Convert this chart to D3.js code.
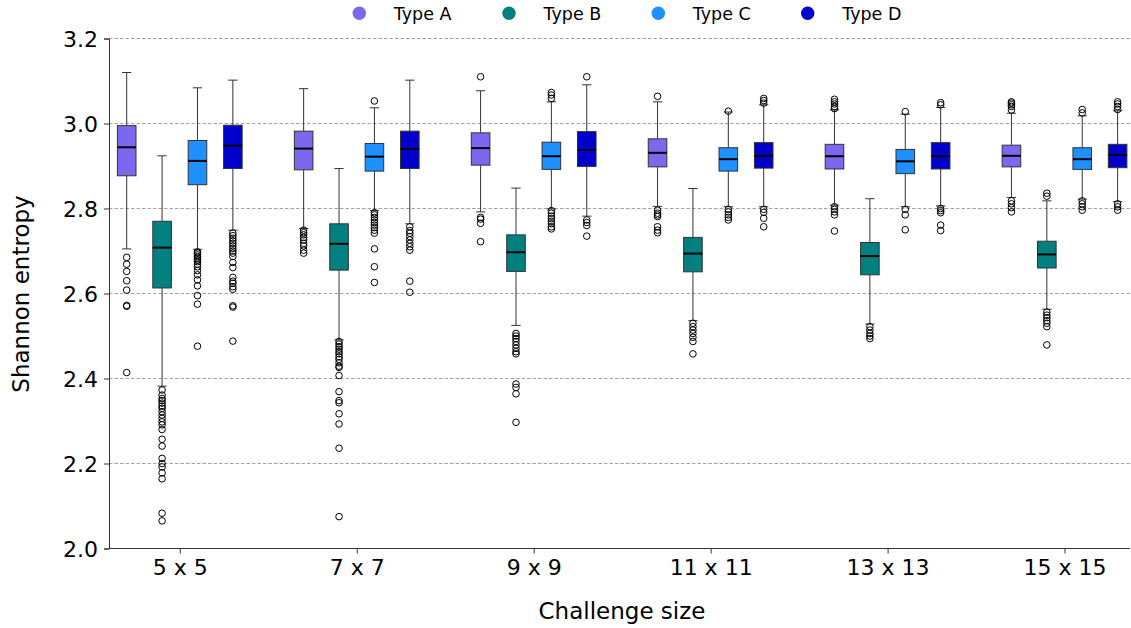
<!DOCTYPE html>
<html><head><meta charset="utf-8">
<script src="https://cdn.jsdelivr.net/npm/d3@7"></script>
<style>body{margin:0;background:#fff}svg{display:block}text{font-family:"DejaVu Sans",sans-serif;fill:#000}</style>
</head><body><svg id="c" width="1131" height="628"></svg>
<script>
const categories = ["5 x 5","7 x 7","9 x 9","11 x 11","13 x 13","15 x 15"];
const seriesNames = ["Type A","Type B","Type C","Type D"];
const seriesColors = ["#7B68EE","#008080","#1E90FF","#0000CD"];
const yTicks = [2.0,2.2,2.4,2.6,2.8,3.0,3.2];

// rows: Type A, B, C, D ; columns: categories
const whiskerLow = [
  [2.705,2.753,2.792,2.805,2.808,2.826],
  [2.382,2.491,2.525,2.536,2.528,2.563],
  [2.704,2.795,2.799,2.804,2.804,2.822],
  [2.749,2.764,2.782,2.804,2.806,2.816]];
const q1 = [
  [2.877,2.891,2.902,2.898,2.893,2.898],
  [2.613,2.655,2.652,2.651,2.644,2.660],
  [2.856,2.888,2.892,2.888,2.882,2.892],
  [2.894,2.894,2.899,2.895,2.893,2.896]];
const median = [
  [2.944,2.941,2.942,2.931,2.923,2.924],
  [2.708,2.717,2.697,2.694,2.688,2.692],
  [2.912,2.922,2.923,2.916,2.911,2.916],
  [2.948,2.940,2.938,2.924,2.923,2.926]];
const q3 = [
  [2.995,2.982,2.978,2.964,2.951,2.949],
  [2.770,2.764,2.738,2.732,2.720,2.723],
  [2.960,2.953,2.956,2.943,2.939,2.943],
  [2.996,2.982,2.981,2.955,2.955,2.951]];
const whiskerHigh = [
  [3.120,3.082,3.077,3.051,3.032,3.024],
  [2.924,2.894,2.848,2.847,2.823,2.818],
  [3.084,3.037,3.051,3.027,3.022,3.018],
  [3.102,3.102,3.091,3.044,3.038,3.030]];

const outliersA = [
  [2.685,2.669,2.652,2.630,2.608,2.572,2.570,2.414],
  [2.749,2.743,2.738,2.732,2.726,2.718,2.712,2.702,2.695],
  [3.110,2.779,2.775,2.765,2.722],
  [3.064,2.796,2.789,2.785,2.781,2.757,2.749,2.743],
  [3.057,3.051,3.046,3.040,3.035,2.804,2.798,2.792,2.785,2.747],
  [3.051,3.048,3.044,3.040,3.032,2.818,2.811,2.802,2.792]];
const outliersB = [
  [2.373,2.361,2.353,2.348,2.342,2.335,2.330,2.322,2.314,2.306,2.298,2.291,2.280,2.257,2.241,2.212,2.200,2.192,2.178,2.164,2.083,2.065],
  [2.487,2.481,2.475,2.469,2.463,2.458,2.451,2.445,2.437,2.429,2.426,2.407,2.369,2.348,2.343,2.317,2.293,2.236,2.075],
  [2.506,2.500,2.494,2.487,2.479,2.471,2.463,2.458,2.387,2.379,2.364,2.297],
  [2.530,2.522,2.514,2.506,2.497,2.487,2.458],
  [2.522,2.514,2.506,2.500,2.494],
  [2.836,2.829,2.556,2.549,2.543,2.536,2.530,2.522,2.479]];
const outliersC = [
  [2.698,2.695,2.691,2.687,2.683,2.679,2.675,2.669,2.663,2.654,2.644,2.632,2.618,2.595,2.575,2.476],
  [3.053,2.790,2.785,2.779,2.773,2.767,2.761,2.755,2.749,2.742,2.705,2.663,2.626],
  [3.073,3.067,3.059,2.795,2.789,2.782,2.776,2.770,2.764,2.757,2.752],
  [3.029,2.798,2.792,2.785,2.779,2.773],
  [3.028,2.798,2.785,2.750],
  [3.033,3.025,2.818,2.811,2.804,2.796]];
const outliersD = [
  [2.742,2.736,2.730,2.724,2.718,2.712,2.706,2.700,2.695,2.687,2.673,2.661,2.638,2.629,2.624,2.616,2.610,2.571,2.568,2.488],
  [2.757,2.748,2.742,2.734,2.726,2.718,2.710,2.702,2.629,2.603],
  [3.110,2.773,2.767,2.760,2.735],
  [3.059,3.054,3.048,2.798,2.791,2.777,2.757],
  [3.049,3.044,2.800,2.795,2.790,2.761,2.748],
  [3.051,3.046,3.040,3.033,2.811,2.804,2.796]];
const outliers = [outliersA, outliersB, outliersC, outliersD];

const svg = d3.select("#c");
const L = 109, R = 1130, T = 38.5, B = 548.5;
const x = d3.scaleLinear().domain([-0.4, 5.37]).range([L, R]);
const y = d3.scaleLinear().domain([2.0, 3.2]).range([B, T]);
const offsets = [-0.3, -0.1, 0.1, 0.3];
const boxW = 0.105;

// grid
svg.append("g").selectAll("line").data(yTicks.filter(v => v > 2.0)).join("line")
  .attr("x1", L).attr("x2", R).attr("y1", d => y(d)).attr("y2", d => y(d))
  .attr("stroke", "#999").attr("stroke-width", 0.9).attr("stroke-dasharray", "3.5,2");

// axes
const yAxis = d3.axisLeft(y).tickValues(yTicks).tickFormat(d3.format(".1f")).tickSize(5).tickPadding(6);
const gy = svg.append("g").attr("transform", `translate(${L},0)`).call(yAxis);
gy.selectAll("text").style("font-size", "22px").attr("dy", "0.36em");
const xAxis = d3.axisBottom(x).tickValues(d3.range(categories.length)).tickFormat(i => categories[i]).tickSize(5).tickPadding(6);
const gx = svg.append("g").attr("transform", `translate(0,${B})`).call(xAxis);
gx.selectAll("text").style("font-size", "22px");
gx.select(".domain").attr("d", `M${L},0H${R}`);
[gx, gy].forEach(g => { g.select(".domain").attr("stroke", "#333"); g.selectAll(".tick line").attr("stroke", "#333"); });

// boxes
seriesNames.forEach((name, s) => {
  const g = svg.append("g");
  categories.forEach((cat, i) => {
    const cx = x(i + offsets[s]);
    const hw = (x(boxW) - x(0)) / 2;
    const cw = hw / 2;
    const st = "#333";
    g.append("line").attr("x1", cx).attr("x2", cx).attr("y1", y(q3[s][i])).attr("y2", y(whiskerHigh[s][i])).attr("stroke", st).attr("stroke-width", 1);
    g.append("line").attr("x1", cx).attr("x2", cx).attr("y1", y(q1[s][i])).attr("y2", y(whiskerLow[s][i])).attr("stroke", st).attr("stroke-width", 1);
    g.append("line").attr("x1", cx - cw).attr("x2", cx + cw).attr("y1", y(whiskerHigh[s][i])).attr("y2", y(whiskerHigh[s][i])).attr("stroke", st).attr("stroke-width", 1);
    g.append("line").attr("x1", cx - cw).attr("x2", cx + cw).attr("y1", y(whiskerLow[s][i])).attr("y2", y(whiskerLow[s][i])).attr("stroke", st).attr("stroke-width", 1);
    g.append("rect").attr("x", cx - hw).attr("width", 2 * hw)
      .attr("y", y(q3[s][i])).attr("height", y(q1[s][i]) - y(q3[s][i]))
      .attr("fill", seriesColors[s]).attr("stroke", "#333").attr("stroke-width", 1);
    g.append("line").attr("x1", cx - hw).attr("x2", cx + hw).attr("y1", y(median[s][i])).attr("y2", y(median[s][i])).attr("stroke", "#000").attr("stroke-width", 2);
    g.selectAll(null).data(outliers[s][i]).join("circle")
      .attr("cx", cx).attr("cy", d => y(d)).attr("r", 3.3)
      .attr("fill", "none").attr("stroke", "#000").attr("stroke-width", 1);
  });
});

// axis titles
svg.append("text").attr("x", 622).attr("y", 619).attr("text-anchor", "middle").style("font-size", "23px").text("Challenge size");
svg.append("text").attr("transform", "translate(29,294) rotate(-90)").attr("text-anchor", "middle").style("font-size", "23px").text("Shannon entropy");

// legend
const legX = [359.3, 509, 658.3, 807.7];
const lg = svg.append("g");
seriesNames.forEach((n, s) => {
  lg.append("circle").attr("cx", legX[s]).attr("cy", 13.3).attr("r", 6.7).attr("fill", seriesColors[s]);
  lg.append("text").attr("x", legX[s] + 34.5).attr("y", 13.3).attr("dy", "0.36em").style("font-size", "17.5px").text(n);
});
</script></body></html>
